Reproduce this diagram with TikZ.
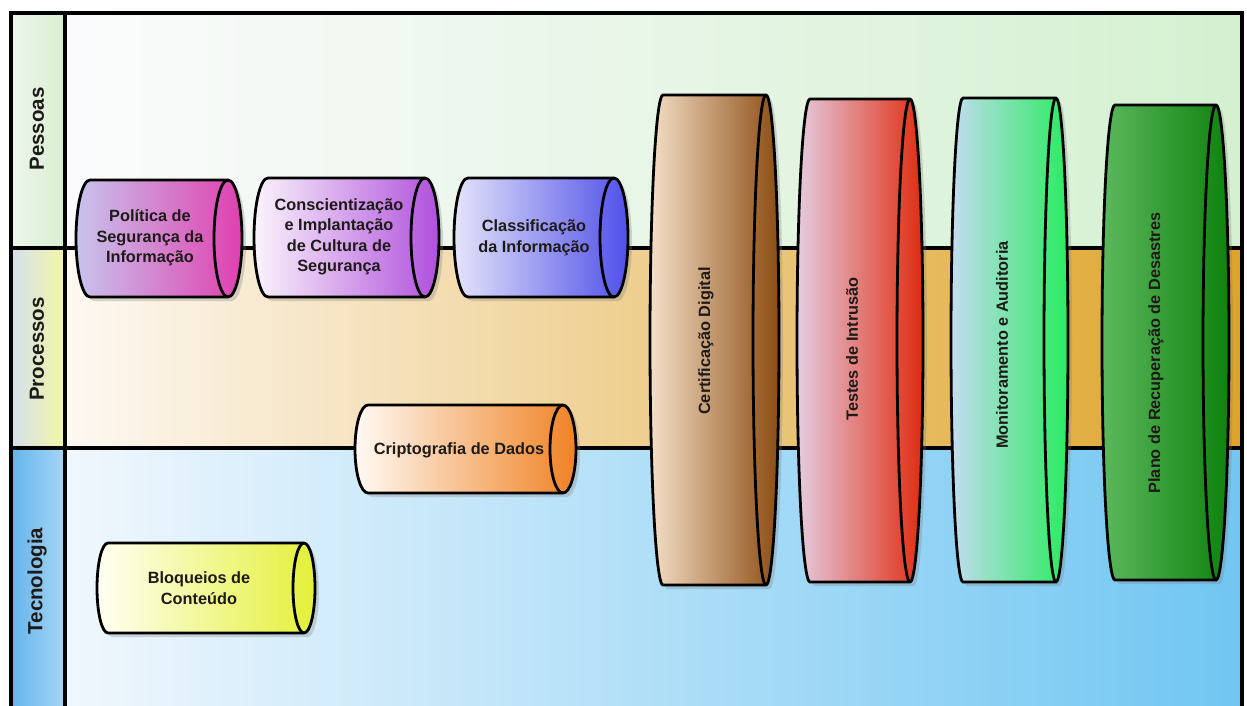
\documentclass[tikz,border=0pt]{standalone}
\usepackage{fontspec}
\setmainfont{Liberation Sans}
\usepackage{tikz}
\usetikzlibrary{shadows}

% one drum: x1, x2, ytop, ybot, rx, left colour, right colour
\newcommand{\barril}[7]{%
  \pgfmathsetmacro{\ry}{(#4-#3)/2}%
  \draw[line width=2.8pt, left color=#6, right color=#7,
        drop shadow={opacity=0.3, shadow xshift=4pt, shadow yshift=-4pt}]
    (#1,#3) -- (#2,#3) arc[start angle=90, end angle=-90, x radius=#5pt, y radius=\ry pt]
    -- (#1,#4) arc[start angle=270, end angle=90, x radius=#5pt, y radius=\ry pt] -- cycle;
  \draw[line width=2.8pt] (#2,#3) arc[start angle=90, end angle=270, x radius=#5pt, y radius=\ry pt];
}

\definecolor{txt}{HTML}{1E1A18}
% lanes
\definecolor{pesL}{HTML}{FBFBFD}
\definecolor{pesM}{HTML}{E6F3E6}
\definecolor{pesR}{HTML}{D4F0D0}
\definecolor{proL}{HTML}{FDF8F2}
\definecolor{proM}{HTML}{EBC050}
\definecolor{proR}{HTML}{DEA428}
\definecolor{tecL}{HTML}{F0F7FD}
\definecolor{tecM}{HTML}{A4DCF8}
\definecolor{tecR}{HTML}{70C6F2}
\definecolor{colPesL}{HTML}{EEF5EA}
\definecolor{colPesR}{HTML}{D8EFD2}
\definecolor{colProL}{HTML}{D4E0EE}
\definecolor{colProR}{HTML}{F4F6A6}
\definecolor{colTecL}{HTML}{64B4EA}
\definecolor{colTecR}{HTML}{A6D6F6}
% drums
\definecolor{polL}{HTML}{C8C4EC}
\definecolor{polR}{HTML}{E040B0}
\definecolor{culL}{HTML}{FAF4FC}
\definecolor{culR}{HTML}{B050DC}
\definecolor{claL}{HTML}{E4E4FA}
\definecolor{claR}{HTML}{5050EA}
\definecolor{criL}{HTML}{FFFAF4}
\definecolor{criR}{HTML}{F08224}
\definecolor{bloL}{HTML}{FFFFF4}
\definecolor{bloR}{HTML}{E4F038}
\definecolor{cerL}{HTML}{F4E0C8}
\definecolor{cerR}{HTML}{8C4C12}
\definecolor{tesL}{HTML}{E4CCE0}
\definecolor{tesR}{HTML}{E02C10}
\definecolor{monL}{HTML}{C4DCF0}
\definecolor{monR}{HTML}{28EC60}
\definecolor{plaL}{HTML}{5CB85C}
\definecolor{plaR}{HTML}{0E820E}

\begin{document}
\begin{tikzpicture}[x=1pt, y=-1pt,
  lanelabel/.style={rotate=90, font=\bfseries\fontsize{20.5}{24}\selectfont, text=txt},
  drumtext/.style={align=center, font=\bfseries\fontsize{16.3}{20.5}\selectfont, text=txt},
  tallText/.style={rotate=90, font=\bfseries\fontsize{16.3}{20}\selectfont, text=txt}]
\useasboundingbox (0,0) rectangle (1247,706);
\fill[white] (0,0) rectangle (1247,706);

% lanes
\shade[left color=pesL, middle color=pesM, right color=pesR] (65,13) rectangle (1242,248);
\shade[left color=proL, middle color=proM, right color=proR] (65,248) rectangle (1242,448);
\shade[left color=tecL, middle color=tecM, right color=tecR] (65,448) rectangle (1242,706);

% label column
\shade[left color=colPesL, right color=colPesR] (11,13) rectangle (65,248);
\shade[left color=colProL, right color=colProR] (11,248) rectangle (65,448);
\shade[left color=colTecL, right color=colTecR] (11,448) rectangle (65,706);

% frame
\coordinate (tl) at (11,13);
\coordinate (tr) at (1242,13);
\draw[line width=3.4pt] (11,706) -- (tl) -- (tr) -- (1242,706);
\draw[line width=3.4pt] (65,13) -- (65,706);
\draw[line width=3.4pt] (11,248) -- (1242,248);
\draw[line width=3.4pt] (11,448) -- (1242,448);

\node[lanelabel] (pessoas) at (37,129) {Pessoas};
\node[lanelabel] (processos) at (37,349) {Processos};
\node[lanelabel] (tecnologia) at (37,581) {Tecnologia};

% drums
\barril{90}{228}{180}{297}{14}{polL}{polR}
\barril{268}{425}{178}{297}{14}{culL}{culR}
\barril{468}{614}{178}{297}{14}{claL}{claR}
\barril{368}{563}{405}{493}{13}{criL}{criR}
\barril{108}{304}{543}{633}{11}{bloL}{bloR}
\barril{663}{766}{95}{585}{13}{cerL}{cerR}
\barril{810}{910}{99}{582}{13}{tesL}{tesR}
\barril{963}{1056}{98}{582}{12}{monL}{monR}
\barril{1115}{1216}{105}{580}{13}{plaL}{plaR}

\node[drumtext] (politica) at (150,238) {Política de\\Segurança da\\Informação};
\node[drumtext] (cultura) at (339,237) {Conscientização\\e Implantação\\de Cultura de\\Segurança};
\node[drumtext] (classif) at (534,238) {Classificação\\da Informação};
\node[drumtext] (cripto) at (459,450) {Criptografia de Dados};
\node[drumtext] (bloqueio) at (199,588) {Bloqueios de\\Conteúdo};

\node[tallText] (certif) at (706,341) {Certificação Digital};
\node[tallText] (testes) at (852,349) {Testes de Intrusão};
\node[tallText] (monit) at (1002,345) {Monitoramento e Auditoria};
\node[tallText] (plano) at (1156,353) {Plano de Recuperação de Desastres};
\end{tikzpicture}
\end{document}
